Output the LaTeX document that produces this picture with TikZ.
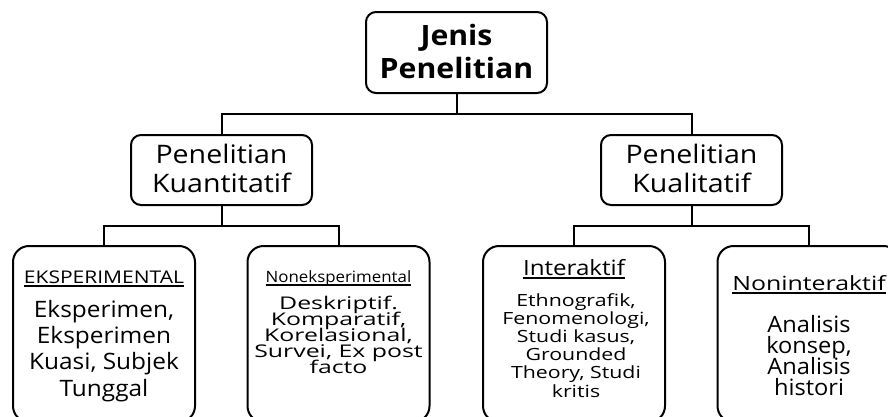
\documentclass[tikz,border=0pt]{standalone}
\usepackage{fontspec}
\setmainfont{Open Sans}
\newcommand\fsz[3]{\fontsize{#1}{#2}\selectfont\addfontfeature{FakeStretch=#3}\lineskiplimit=-100pt\lineskip=0pt}
\begin{document}
\begin{tikzpicture}[x=1pt,y=-1pt,
  box/.style={draw, line width=2pt, rounded corners=10pt, inner sep=0pt, minimum width=181pt},
  leaf/.style={draw, line width=2pt, rounded corners=16pt, inner sep=0pt, minimum width=182pt, minimum height=176pt},
  conn/.style={line width=2pt},
  txt/.style={inner sep=0pt, align=center, anchor=base},
  uline/.style={line width=1.3pt}]
\useasboundingbox (0,0) rectangle (888,416);
\clip (0,0) rectangle (888,416);
% boxes
\node[box, minimum height=81pt] (top) at (456.5,52.5) {};
\node[box, minimum height=70pt] (mid1) at (221.5,170) {};
\node[box, minimum height=70pt] (mid2) at (691.5,170) {};
\node[leaf] (b1) at (104,334) {};
\node[leaf] (b2) at (338.5,334) {};
\node[leaf] (b3) at (574,334) {};
\node[leaf] (b4) at (808.5,334) {};
% connectors
\coordinate (j1) at (0,114);
\coordinate (j2) at (0,226);
\draw[conn] (top.south) -- (top.south |- j1) -| (mid1.north);
\draw[conn] (top.south |- j1) -| (mid2.north);
\draw[conn] (mid1.south) -- (mid1.south |- j2) -| (b1.north);
\draw[conn] (mid1.south |- j2) -| (b2.north);
\draw[conn] (mid2.south) -- (mid2.south |- j2) -| (b3.north);
\draw[conn] (mid2.south |- j2) -| (b4.north);
% texts (anchor = baseline of the last line)
\node[txt, font=\bfseries\fsz{28}{33}{1.08}] (ttop) at (456.5,78) {Jenis\\Penelitian};
\node[txt, font=\fsz{25.5}{29}{1.12}] (tm1) at (221.5,192) {Penelitian\\Kuantitatif};
\node[txt, font=\fsz{25.5}{29}{1.12}] (tm2) at (691.5,192) {Penelitian\\Kualitatif};
% leaf 1
\node[txt, font=\fsz{17.5}{20}{1.2}] (h1) at (104,283) {EKSPERIMENTAL};
\draw[uline] ([yshift=-3pt]h1.base west) -- ([yshift=-3pt]h1.base east);
\node[txt, font=\fsz{22.6}{26.3}{1.08}] (t1) at (104,396) {Eksperimen,\\Eksperimen\\Kuasi, Subjek\\Tunggal};
% leaf 2
\node[txt, font=\fsz{15.6}{18}{1.08}] (h2) at (338.5,282) {Noneksperimental};
\draw[uline] ([yshift=-3pt]h2.base west) -- ([yshift=-3pt]h2.base east);
\node[txt, font=\fsz{17.5}{15.8}{1.42}] (t2) at (338.5,373) {Deskriptif.\\Komparatif,\\Korelasional,\\Survei, Ex post\\facto};
% leaf 3
\node[txt, font=\fsz{21}{24}{1.15}] (h3) at (574,275) {Interaktif};
\draw[uline] ([yshift=-3pt]h3.base west) -- ([yshift=-3pt]h3.base east);
\node[txt, font=\fsz{16.8}{18.2}{1.27}] (t3) at (576,397) {Ethnografik,\\Fenomenologi,\\Studi kasus,\\Grounded\\Theory, Studi\\kritis};
% leaf 4
\node[txt, font=\fsz{19.6}{23}{1.27}] (h4) at (809,290) {Noninteraktif};
\draw[uline] ([yshift=-3pt]h4.base west) -- ([yshift=-3pt]h4.base east);
\node[txt, font=\fsz{22.5}{21}{1.05}] (t4) at (809,395) {Analisis\\konsep,\\Analisis\\histori};
\end{tikzpicture}
\end{document}
